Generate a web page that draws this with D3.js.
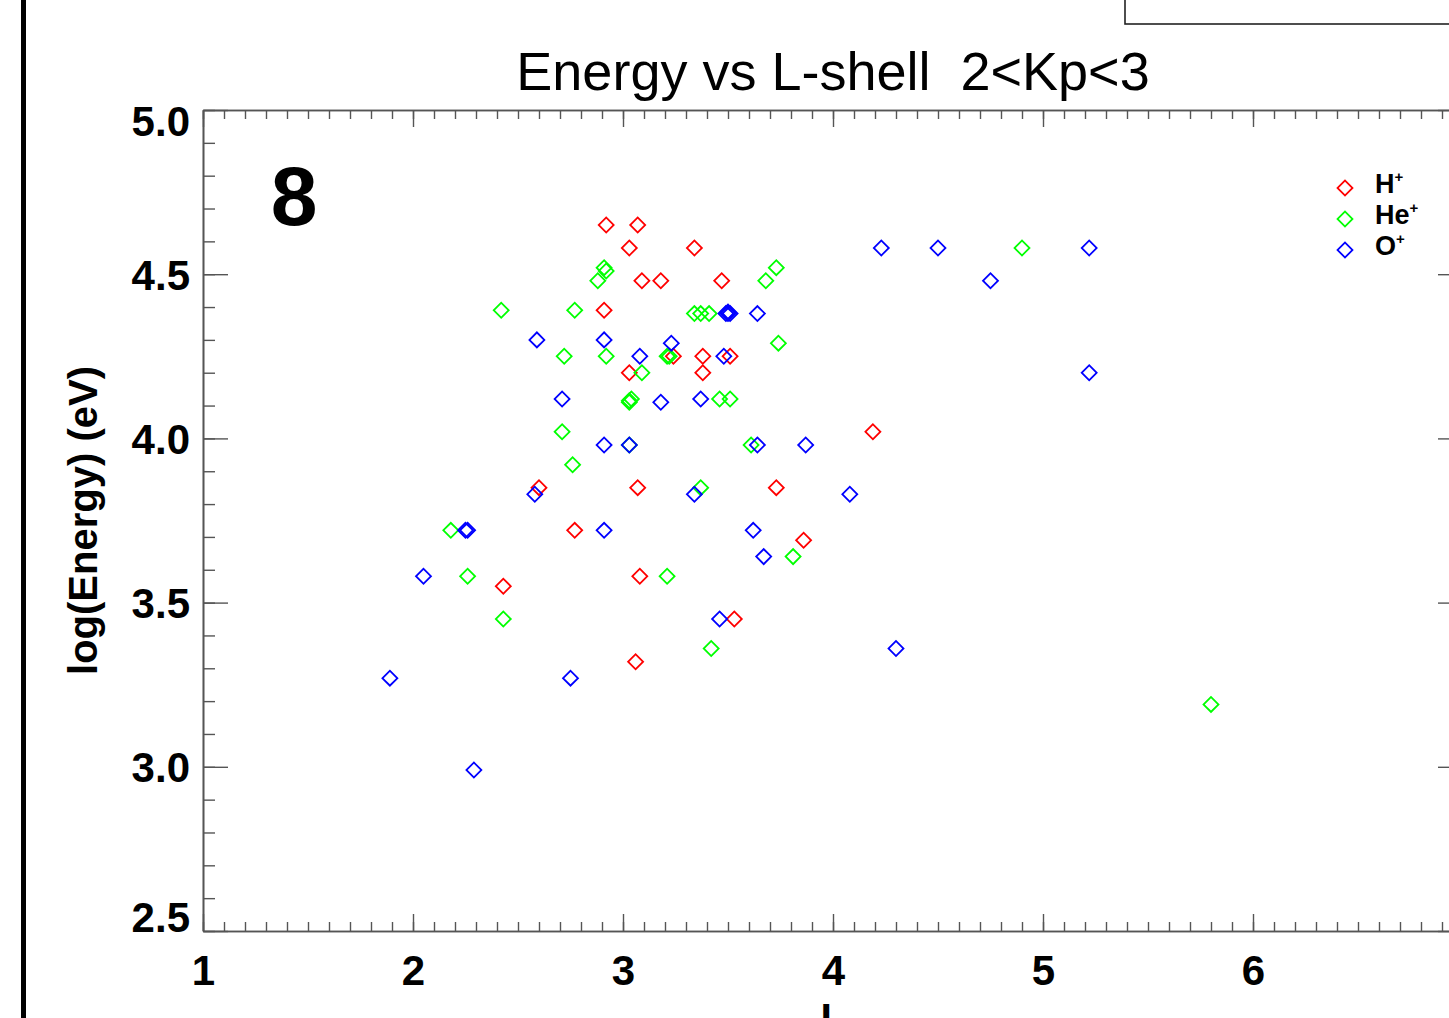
<!DOCTYPE html>
<html>
<head>
<meta charset="utf-8">
<script src="https://cdn.jsdelivr.net/npm/d3@7"></script>
<style>
  html, body { margin: 0; padding: 0; background: #fff; overflow: hidden; }
  svg { display: block; font-family: "Liberation Sans", Arial, Helvetica, sans-serif; }
</style>
</head>
<body>
<svg id="chart" width="1449" height="1018"></svg>
<script>
// ---------------- data ----------------
const titleText = "Energy vs L-shell  2<Kp<3";
const panelLabel = "8";
const xLabel = "L";
const yLabel = "log(Energy) (eV)";
const xTicks = [1, 2, 3, 4, 5, 6, 7];
const xTickLabels = [1, 2, 3, 4, 5, 6];
const yTicks = [2.5, 3.0, 3.5, 4.0, 4.5, 5.0];
const seriesNames = ["H", "He", "O"];
const seriesColors = ["#ff0000", "#00ff00", "#0000ff"];

// H+ (L, log E)
const hL = [2.92, 3.07, 3.03, 3.34, 3.09, 3.18, 3.47, 2.91, 3.24, 3.38, 3.51, 3.03, 3.38,
            4.19, 2.60, 3.07, 3.73, 2.77, 3.86, 3.08, 2.43, 3.53, 3.06];
const hE = [4.65, 4.65, 4.58, 4.58, 4.48, 4.48, 4.48, 4.39, 4.25, 4.25, 4.25, 4.20, 4.20,
            4.02, 3.85, 3.85, 3.85, 3.72, 3.69, 3.58, 3.55, 3.45, 3.32];

// He+ (L, log E)
const heL = [2.91, 2.92, 2.88, 2.42, 2.77, 3.34, 3.37, 3.41, 3.68, 3.73, 3.74, 2.72, 2.92,
             3.21, 3.22, 3.09, 3.03, 3.03, 3.04, 3.46, 3.51, 2.71, 3.03, 3.61, 2.76, 3.37,
             2.18, 2.26, 3.21, 3.81, 2.43, 3.42, 4.90, 5.80];
const heE = [4.52, 4.51, 4.48, 4.39, 4.39, 4.38, 4.38, 4.38, 4.48, 4.52, 4.29, 4.25, 4.25,
             4.25, 4.25, 4.20, 4.11, 4.115, 4.12, 4.12, 4.12, 4.02, 3.98, 3.98, 3.92, 3.85,
             3.72, 3.58, 3.58, 3.64, 3.45, 3.36, 4.58, 3.19];

// O+ (L, log E)
const oL = [2.59, 2.91, 3.23, 2.71, 3.18, 3.37, 3.08, 3.48, 3.49, 3.50, 3.50, 3.51, 3.64,
            2.91, 3.03, 3.64, 3.87, 2.58, 3.34, 4.08, 2.25, 2.26, 2.91, 3.62, 3.67, 2.05,
            3.46, 1.89, 2.75, 4.30, 2.29, 4.23, 4.50, 4.75, 5.22, 5.22];
const oE = [4.30, 4.30, 4.29, 4.12, 4.11, 4.12, 4.25, 4.25, 4.38, 4.38, 4.385, 4.38, 4.38,
            3.98, 3.98, 3.98, 3.98, 3.83, 3.83, 3.83, 3.72, 3.72, 3.72, 3.72, 3.64, 3.58,
            3.45, 3.27, 3.27, 3.36, 2.99, 4.58, 4.58, 4.48, 4.58, 4.20];

const seriesL = [hL, heL, oL];
const seriesE = [hE, heE, oE];

// ---------------- layout ----------------
const svg = d3.select("#chart");
const plotLeft = 203, plotRight = 1463, plotTop = 110, plotBottom = 931;
const axisColor = "#555";

const x = d3.scaleLinear().domain([1, 7]).range([plotLeft, plotRight]);
const y = d3.scaleLinear().domain([2.5, 5.0]).range([plotBottom, plotTop]);

const xMinor = d3.range(10, 71).map(v => v / 10);
const yMinor = d3.range(25, 51).map(v => v / 10);

// thick black bar on far left
svg.append("line").attr("x1", 23.5).attr("x2", 23.5).attr("y1", 0).attr("y2", 1018)
  .attr("stroke", "#000").attr("stroke-width", 5);

// box at top right
svg.append("rect").attr("x", 1125).attr("y", -10).attr("width", 400).attr("height", 34)
  .attr("fill", "none").attr("stroke", "#222").attr("stroke-width", 1.6);

function styleAxis(g) {
  g.select(".domain").attr("stroke", axisColor).attr("stroke-width", 1.6);
  g.selectAll(".tick line").attr("stroke", axisColor).attr("stroke-width", 1.4);
}

// minor ticks
svg.append("g").attr("transform", `translate(0,${plotBottom})`)
  .call(d3.axisBottom(x).tickValues(xMinor).tickSize(-9).tickSizeOuter(0).tickFormat(""))
  .call(styleAxis);
svg.append("g").attr("transform", `translate(0,${plotTop})`)
  .call(d3.axisTop(x).tickValues(xMinor).tickSize(-9).tickSizeOuter(0).tickFormat(""))
  .call(styleAxis);
svg.append("g").attr("transform", `translate(${plotLeft},0)`)
  .call(d3.axisLeft(y).tickValues(yMinor).tickSize(-12).tickSizeOuter(0).tickFormat(""))
  .call(styleAxis);
svg.append("g").attr("transform", `translate(${plotRight},0)`)
  .call(d3.axisRight(y).tickValues(yMinor).tickSize(-12).tickSizeOuter(0).tickFormat(""))
  .call(styleAxis);

// major ticks
svg.append("g").attr("transform", `translate(0,${plotBottom})`)
  .call(d3.axisBottom(x).tickValues(xTicks).tickSize(-17).tickSizeOuter(0).tickFormat(""))
  .call(styleAxis);
const xLabelsG = svg.append("g").attr("transform", `translate(0,${plotBottom})`)
  .call(d3.axisBottom(x).tickValues(xTickLabels).tickSize(0).tickSizeOuter(0).tickFormat(d3.format("d")));
xLabelsG.select(".domain").remove();
xLabelsG.selectAll(".tick text")
  .attr("y", 54).attr("dy", 0)
  .attr("fill", "#000").attr("font-size", 42).attr("font-weight", "bold");

svg.append("g").attr("transform", `translate(0,${plotTop})`)
  .call(d3.axisTop(x).tickValues(xTicks).tickSize(-17).tickSizeOuter(0).tickFormat(""))
  .call(styleAxis);

const yAxisG = svg.append("g").attr("transform", `translate(${plotLeft},0)`)
  .call(d3.axisLeft(y).tickValues(yTicks).tickSize(-25).tickSizeOuter(0).tickFormat(d3.format(".1f")))
  .call(styleAxis);
yAxisG.selectAll(".tick text")
  .attr("x", -13).attr("dy", 0)
  .attr("y", d => d === 5.0 ? 25 : (d === 2.5 ? 0 : 15))
  .attr("fill", "#000").attr("font-size", 42).attr("font-weight", "bold");

svg.append("g").attr("transform", `translate(${plotRight},0)`)
  .call(d3.axisRight(y).tickValues(yTicks).tickSize(-25).tickSizeOuter(0).tickFormat(""))
  .call(styleAxis);

// title
svg.append("text").attr("x", x(4)).attr("y", 90).attr("text-anchor", "middle")
  .attr("xml:space", "preserve").style("white-space", "pre")
  .attr("font-size", 54).attr("fill", "#000").text(titleText);

// panel label
svg.append("text").attr("x", 294).attr("y", 225).attr("text-anchor", "middle")
  .attr("font-size", 84).attr("font-weight", "bold").attr("fill", "#000").text(panelLabel);

// axis labels
svg.append("text").attr("transform", `translate(97,${(plotTop + plotBottom) / 2}) rotate(-90)`)
  .attr("text-anchor", "middle").attr("font-size", 40).attr("font-weight", "bold")
  .attr("fill", "#000").text(yLabel);
svg.append("text").attr("x", x(4)).attr("y", 1032).attr("text-anchor", "middle")
  .attr("font-size", 41).attr("font-weight", "bold").attr("fill", "#000").text(xLabel);

// scatter points
const diamond = d3.symbol().type(d3.symbolSquare).size(112);
seriesNames.forEach((name, i) => {
  const pts = seriesL[i].map((l, j) => ({ l: l, e: seriesE[i][j] }));
  svg.append("g").selectAll("path").data(pts).join("path")
    .attr("d", diamond)
    .attr("transform", d => `translate(${x(d.l)},${y(d.e)}) rotate(45)`)
    .attr("fill", "none").attr("stroke", seriesColors[i]).attr("stroke-width", 1.8);
});

// legend
const legendY = [188, 219, 250];
const legend = svg.append("g");
seriesNames.forEach((name, i) => {
  legend.append("path").attr("d", diamond)
    .attr("transform", `translate(1345,${legendY[i]}) rotate(45)`)
    .attr("fill", "none").attr("stroke", seriesColors[i]).attr("stroke-width", 1.8);
  const t = legend.append("text").attr("x", 1375).attr("y", legendY[i] + 5)
    .attr("font-size", 27).attr("font-weight", "bold").attr("fill", "#000");
  t.append("tspan").text(name);
  t.append("tspan").attr("font-size", 15).attr("dy", -11).text("+");
});
</script>
</body>
</html>
